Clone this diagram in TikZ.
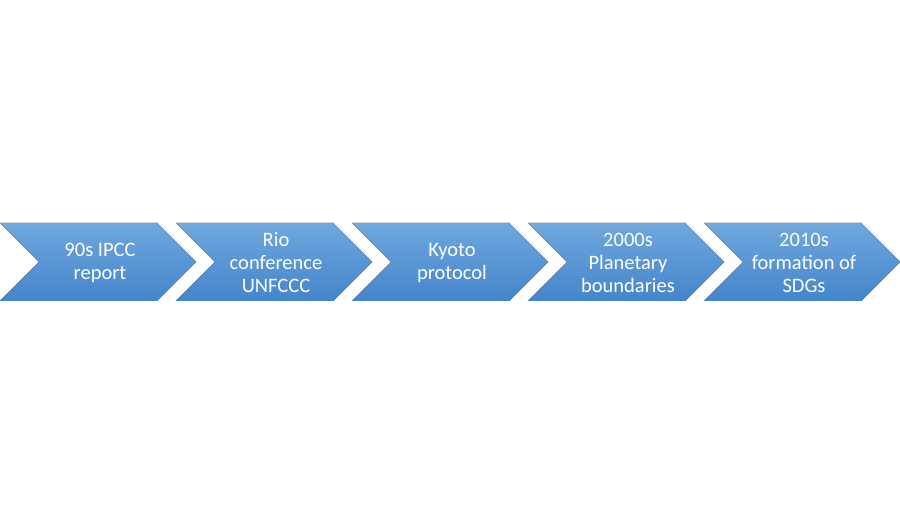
\documentclass[tikz,border=0pt]{standalone}
\usepackage{fontspec}
\setmainfont{Carlito}
\definecolor{chevtop}{RGB}{112,167,222}
\definecolor{chevbot}{RGB}{68,133,203}
\tikzset{
    chevron/.style={top color=chevtop, bottom color=chevbot, draw=none}, % shaded arrow block
    event text/.style={text=white, align=center, font=\fontsize{20.5}{23}\selectfont} % white label in a block
}

\begin{document}
\begin{tikzpicture}[x=1pt, y=1pt]
    \def\d{39} \def\w{157} \def\gap{176}
    \useasboundingbox (0,0) rectangle (900,525);

    \foreach \i/\txt in {0/{90s IPCC\\report}, 1/{Rio\\conference\\UNFCCC}, 2/{Kyoto\\protocol},
                         3/{2000s\\Planetary\\boundaries}, 4/{2010s\\formation of\\SDGs}} {
        \fill[chevron] (\gap*\i,302) -- ++(\w,0) -- ++(\d,-\d) -- ++(-\d,-\d) -- ++(-\w,0) -- ++(\d,\d) -- cycle;
        \node[event text] (ev\i) at (\gap*\i+100,262) {\txt};
    }
\end{tikzpicture}
\end{document}
